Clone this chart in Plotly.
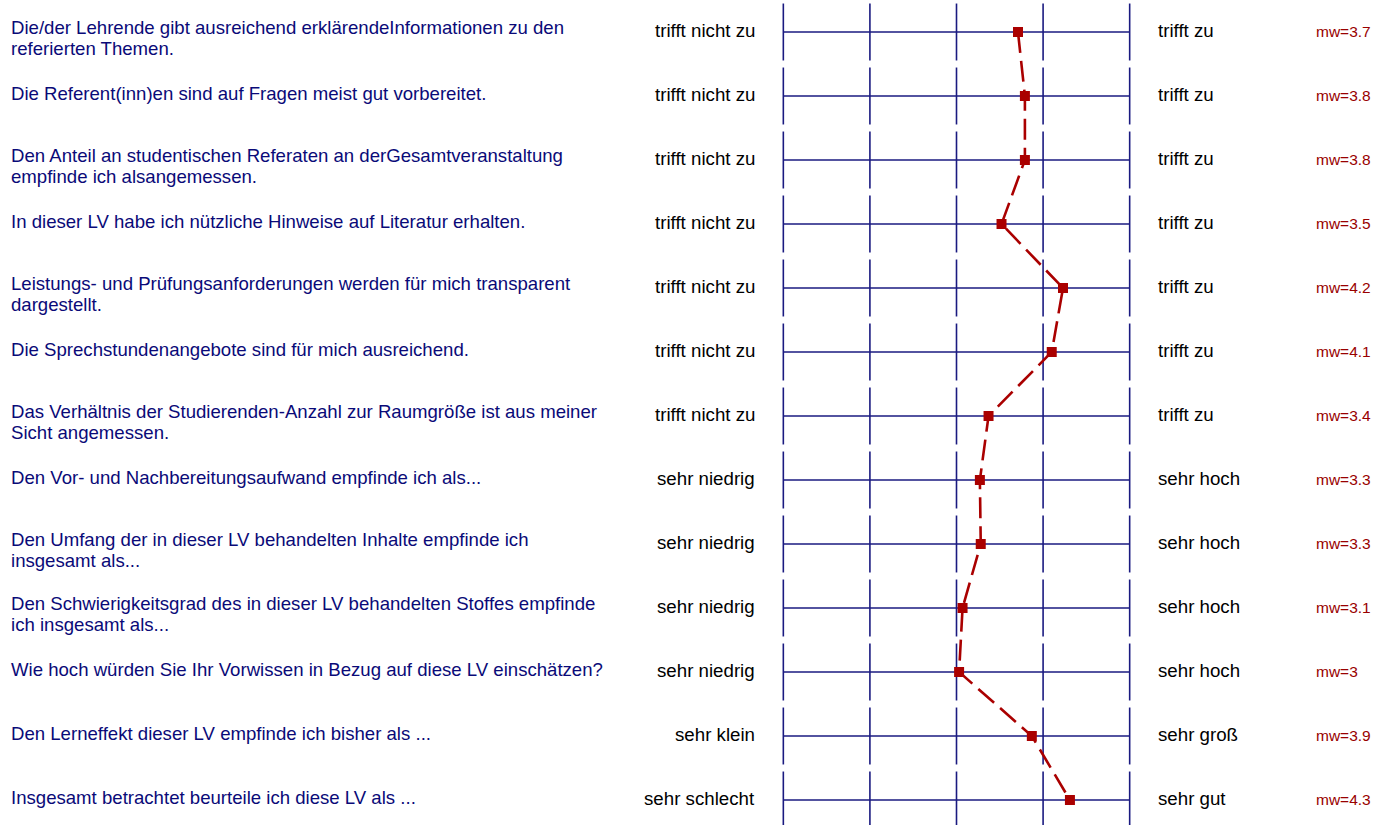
import plotly.graph_objects as go

# survey items (second list entry = wrapped continuation line)
questions = [
    ["Die/der Lehrende gibt ausreichend erklärendeInformationen zu den", "referierten Themen."],
    ["Die Referent(inn)en sind auf Fragen meist gut vorbereitet."],
    ["Den Anteil an studentischen Referaten an derGesamtveranstaltung", "empfinde ich alsangemessen."],
    ["In dieser LV habe ich nützliche Hinweise auf Literatur erhalten."],
    ["Leistungs- und Prüfungsanforderungen werden für mich transparent", "dargestellt."],
    ["Die Sprechstundenangebote sind für mich ausreichend."],
    ["Das Verhältnis der Studierenden-Anzahl zur Raumgröße ist aus meiner", "Sicht angemessen."],
    ["Den Vor- und Nachbereitungsaufwand empfinde ich als..."],
    ["Den Umfang der in dieser LV behandelten Inhalte empfinde ich", "insgesamt als..."],
    ["Den Schwierigkeitsgrad des in dieser LV behandelten Stoffes empfinde", "ich insgesamt als..."],
    ["Wie hoch würden Sie Ihr Vorwissen in Bezug auf diese LV einschätzen?"],
    ["Den Lerneffekt dieser LV empfinde ich bisher als ..."],
    ["Insgesamt betrachtet beurteile ich diese LV als ..."],
]
left_labels = ["trifft nicht zu"] * 7 + ["sehr niedrig"] * 4 + ["sehr klein", "sehr schlecht"]
right_labels = ["trifft zu"] * 7 + ["sehr hoch"] * 4 + ["sehr groß", "sehr gut"]
means = [3.71, 3.79, 3.79, 3.52, 4.23, 4.10, 3.37, 3.27, 3.28, 3.07, 3.03, 3.87, 4.31]
mw = [3.7, 3.8, 3.8, 3.5, 4.2, 4.1, 3.4, 3.3, 3.3, 3.1, 3, 3.9, 4.3]
scale = [1, 2, 3, 4, 5]

rows = list(range(len(questions)))
half = 0.445

# grid: horizontal line per row + short vertical ticks at every scale step
gx, gy = [], []
for r in rows:
    gx += [scale[0], scale[-1], None]
    gy += [r, r, None]
    for s in scale:
        gx += [s, s, None]
        gy += [r - half, r + half, None]

fig = go.Figure()
fig.add_trace(go.Scatter(x=gx, y=gy, mode="lines",
                         line=dict(color="#1a1a80", width=1.6),
                         hoverinfo="skip", showlegend=False))
fig.add_trace(go.Scatter(x=means, y=rows, mode="lines+markers",
                         line=dict(color="#aa0000", width=2.6, dash="21px,8px"),
                         marker=dict(symbol="square", size=10, color="#aa0000"),
                         cliponaxis=False, showlegend=False))

font = "Liberation Sans, Arial, sans-serif"
ann = []
for r in rows:
    lines = questions[r]
    top = 3 if len(lines) == 1 else 4.5
    for k, line in enumerate(lines):
        ann.append(dict(x=1, y=r, xref="x", yref="y", text=line, showarrow=False,
                        xanchor="left", yanchor="middle", xshift=-774, yshift=top - k * 21,
                        font=dict(family=font, size=18.6, color="#0a0a78")))
    ann.append(dict(x=1, y=r, xref="x", yref="y", text=left_labels[r], showarrow=False,
                    xanchor="right", yanchor="middle", xshift=-26, yshift=1.5,
                    font=dict(family=font, size=18.7, color="#000000")))
    ann.append(dict(x=5, y=r, xref="x", yref="y", text=right_labels[r], showarrow=False,
                    xanchor="left", yanchor="middle", xshift=26, yshift=1.5,
                    font=dict(family=font, size=18.7, color="#000000")))
    ann.append(dict(x=5, y=r, xref="x", yref="y", text=f"mw={mw[r]:g}", showarrow=False,
                    xanchor="left", yanchor="middle", xshift=184, yshift=1,
                    font=dict(family=font, size=15.5, color="#990000")))

fig.update_layout(
    width=1390, height=825,
    margin=dict(l=779, r=256, t=0, b=0),
    plot_bgcolor="white", paper_bgcolor="white",
    xaxis=dict(range=[0.95, 5.05], visible=False, fixedrange=True),
    yaxis=dict(range=[12.390625, -0.5], visible=False, fixedrange=True),
    annotations=ann,
)
fig.write_html("out.html", config={"displayModeBar": False},
               post_script="document.body.style.margin='0';")
